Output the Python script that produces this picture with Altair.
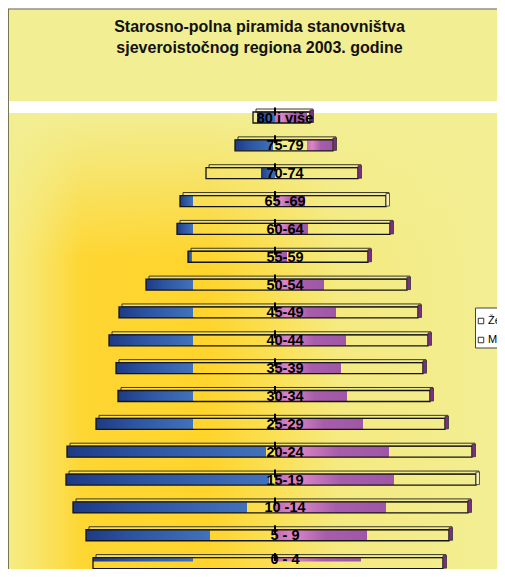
import altair as alt
import pandas as pd

# ---- data (units: relative bar length, centre = 0) ----
ages = ["80 i više", "75-79", "70-74", "65 -69", "60-64", "55-59", "50-54",
        "45-49", "40-44", "35-39", "30-34", "25-29", "20-24", "15-19",
        "10 -14", "5 - 9", "0 - 4"]
frame_left = [-22, -40, -69, -95, -98, -87, -129, -156, -166, -159, -157,
              -179, -208, -209, -202, -189, -182]
frame_right = [35, 58, 83, 111, 115, 93, 132, 143, 153, 148, 155, 170, 197,
               201, 193, 174, 168]
male_start = [-18, -40, -14, -95, -98, -87, -129, -156, -166, -159, -157,
              -179, -208, -209, -202, -189, -182]
male_end = [0, -2, 0, -82, -82, -83, -82, -82, -82, -82, -82, -82, -9, -6,
            -28, -65, -82]
female_start = [0, 32, 0, 0, 0, 0, 0, 0, 0, 0, 0, 0, 0, 0, 0, 0, 0]
female_end = [32, 57, 0, 30, 33, 12, 49, 61, 71, 66, 72, 88, 114, 119, 111,
              92, 86]
legend_labels = ["Ženski", "Muški"]
title_lines = ["Starosno-polna piramida stanovništva",
               "sjeveroistočnog regiona 2003. godine"]

df = pd.DataFrame({
    "age": ages, "row": list(range(len(ages))),
    "fl": frame_left, "fr": frame_right,
    "ms": male_start, "me": male_end,
    "fs": female_start, "fe": female_end,
})
df["center"] = 0
df["lab"] = 10

W, H = 489, 561
xs = alt.Scale(domain=[-267, 222], nice=False, zero=False)
ys = alt.Scale(domain=[-3.932, 16.212], nice=False, zero=False, reverse=True)

one = pd.DataFrame({"k": [0]})
base = alt.Chart(df)


def X(f):
    return alt.X(f"{f}:Q", scale=xs, axis=None)


def X2(f):
    return alt.X2(f"{f}:Q")


Y = alt.Y("row:Q", scale=ys, axis=None)
Y2 = alt.Y2("row:Q")

# backgrounds
title_bg = alt.Chart(one).mark_rect(fill="#F2EE93").encode(
    x=alt.value(1), x2=alt.value(W), y=alt.value(1.5), y2=alt.value(93))

warm = alt.LinearGradient(
    gradient="linear", x1=0, x2=1, y1=0, y2=0,
    stops=[alt.GradientStop(color="#F6EC84", offset=0),
           alt.GradientStop(color="#F9E468", offset=0.06),
           alt.GradientStop(color="#FED632", offset=0.15),
           alt.GradientStop(color="#FFD42C", offset=0.41),
           alt.GradientStop(color="#FBDF50", offset=0.53),
           alt.GradientStop(color="#F5EA80", offset=0.67),
           alt.GradientStop(color="#F2EE93", offset=1)])
plot_bg = alt.Chart(one).mark_rect(fill=warm).encode(
    x=alt.value(1), x2=alt.value(W), y=alt.value(105), y2=alt.value(H))

fade = alt.LinearGradient(
    gradient="linear", x1=0, x2=0, y1=0, y2=1,
    stops=[alt.GradientStop(color="rgba(242,238,147,1)", offset=0),
           alt.GradientStop(color="rgba(242,238,147,0.6)", offset=0.13),
           alt.GradientStop(color="rgba(242,238,147,0)", offset=0.32),
           alt.GradientStop(color="rgba(242,238,147,0)", offset=1)])
plot_fade = alt.Chart(one).mark_rect(fill=fade).encode(
    x=alt.value(1), x2=alt.value(W), y=alt.value(105), y2=alt.value(H))

left_border = alt.Chart(one).mark_rule(color="#77764F", strokeWidth=2).encode(
    x=alt.value(0), y=alt.value(1), y2=alt.value(H))
top_border = alt.Chart(one).mark_rule(color="#5A5A48", strokeWidth=1).encode(
    x=alt.value(0), x2=alt.value(W), y=alt.value(1))

tdf = pd.DataFrame({"t": title_lines, "yy": [24, 45]})
title = alt.Chart(tdf).mark_text(
    font="Liberation Sans", fontSize=16, fontWeight="bold", color="#111111",
    align="center", baseline="alphabetic").encode(
    x=alt.value(251.5), y=alt.Y("yy:Q", scale=None), text="t:N")

# 3D top faces
top_face = base.mark_rect(
    fill="#F4EE90", fillOpacity=0.35, stroke="#3A3A2A", strokeWidth=1,
    xOffset=3, x2Offset=3, yOffset=-8.5, y2Offset=-5.5).encode(
    x=X("fl"), x2=X2("fr"), y=Y, y2=Y2)

blue = alt.LinearGradient(
    gradient="linear", x1=0, x2=1, y1=0, y2=0,
    stops=[alt.GradientStop(color="#1E3A85", offset=0),
           alt.GradientStop(color="#2B52A0", offset=0.35),
           alt.GradientStop(color="#4272BB", offset=1)])
pink = alt.LinearGradient(
    gradient="linear", x1=0, x2=1, y1=0, y2=0,
    stops=[alt.GradientStop(color="#C56BB3", offset=0),
           alt.GradientStop(color="#DC86C6", offset=0.2),
           alt.GradientStop(color="#A85DAB", offset=0.55),
           alt.GradientStop(color="#9E57A6", offset=1)])

male_bar = base.transform_filter("datum.me > datum.ms && datum.row < 16").mark_rect(
    fill=blue, yOffset=-5.5, y2Offset=5.5).encode(
    x=X("ms"), x2=X2("me"), y=Y, y2=Y2)
female_bar = base.transform_filter("datum.fe > datum.fs && datum.row < 16").mark_rect(
    fill=pink, yOffset=-5.5, y2Offset=5.5).encode(
    x=X("fs"), x2=X2("fe"), y=Y, y2=Y2)
male_thin = base.transform_filter("datum.row == 16").mark_rect(
    fill=blue, yOffset=-5.5, y2Offset=-1.5).encode(
    x=X("ms"), x2=X2("me"), y=Y, y2=Y2)
female_thin = base.transform_filter("datum.row == 16").mark_rect(
    fill=pink, yOffset=-5.5, y2Offset=-1.5).encode(
    x=X("fs"), x2=X2("fe"), y=Y, y2=Y2)

front = base.mark_rect(
    fillOpacity=0, stroke="#151515", strokeWidth=1.3,
    yOffset=-5.5, y2Offset=5.5).encode(
    x=X("fl"), x2=X2("fr"), y=Y, y2=Y2)

side = base.mark_rect(
    stroke="#333333", strokeWidth=0.8, x2Offset=3.5,
    yOffset=-7.5, y2Offset=5).encode(
    x=X("fr"), x2=X2("fr"), y=Y, y2=Y2,
    fill=alt.condition("datum.row == 3 || datum.row == 13",
                       alt.value("#F6F1B8"), alt.value("#7E2D86")))

ticks = base.mark_rule(color="#000000", strokeWidth=2,
                       yOffset=-10, y2Offset=-2).encode(
    x=X("center"), y=Y, y2=Y2)

label_style = dict(font="Liberation Sans", fontSize=14.5, fontWeight="bold",
                   color="#000000", align="center", baseline="middle")
labels = base.transform_filter("datum.row < 16").mark_text(
    dy=1, **label_style).encode(x=X("lab"), y=Y, text="age:N")
labels_last = base.transform_filter("datum.row == 16").mark_text(
    dy=-3, **label_style).encode(x=X("lab"), y=Y, text="age:N")

# legend (cut by the right edge as in the reference)
leg_box = alt.Chart(one).mark_rect(fill="#FFFFFF", stroke="#444444", strokeWidth=1).encode(
    x=alt.value(467.5), x2=alt.value(530), y=alt.value(300), y2=alt.value(340))
ldf = pd.DataFrame({"t": legend_labels, "yy": [313, 332]})
leg_sym = alt.Chart(ldf).mark_square(size=30, fill="#FFFFFF", stroke="#333333",
                                     strokeWidth=1, opacity=1).encode(
    x=alt.value(473), y=alt.Y("yy:Q", scale=None))
leg_txt = alt.Chart(ldf).mark_text(
    font="Liberation Sans", fontSize=11, color="#000000", align="left",
    baseline="middle").encode(
    x=alt.value(480), y=alt.Y("yy:Q", scale=None), text="t:N")

chart = alt.layer(
    title_bg, plot_bg, plot_fade, left_border, top_border, title,
    top_face, male_bar, female_bar, male_thin, female_thin, front, side,
    ticks, labels, labels_last, leg_box, leg_sym, leg_txt
).properties(
    width=W, height=H, autosize="none", padding=0, background="#FFFFFF"
).configure_view(stroke=None)

chart.save("out.html", embed_options={"renderer": "svg", "actions": False})
